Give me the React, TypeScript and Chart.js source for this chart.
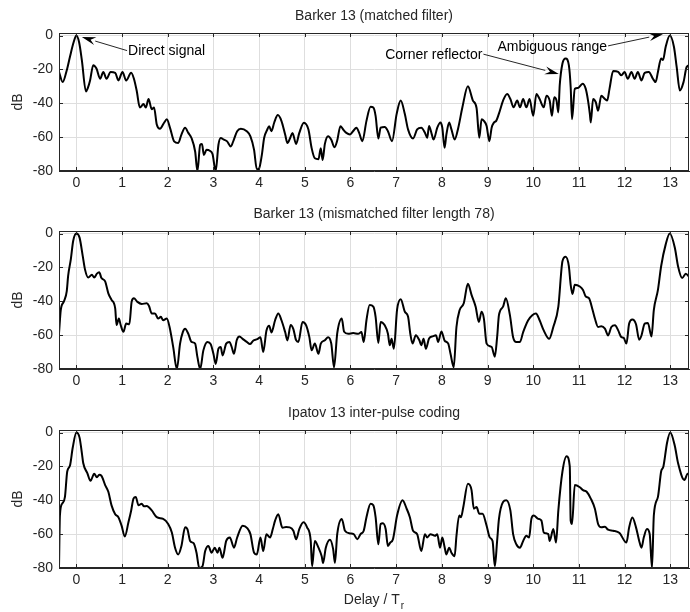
import React, { useEffect, useRef } from "react";
import { Chart, registerables } from "chart.js";
Chart.register(...registerables);

// ---------- axes ----------
const xTicks = [0, 1, 2, 3, 4, 5, 6, 7, 8, 9, 10, 11, 12, 13];
const yTicks = [0, -20, -40, -60, -80];
const X_MIN = -0.38;
const X_MAX = 13.41;
const Y_MIN = -80;
const Y_MAX = 1.5;

const panelTitles = [
  "Barker 13 (matched filter)",
  "Barker 13 (mismatched filter length 78)",
  "Ipatov 13 inter-pulse coding",
];
const yLabel = "dB";
const xLabelMain = "Delay / T";
const xLabelSub = "r";

// ---------- panel 1: Barker 13 matched ----------
const matchedX = [
  -0.38, -0.3, -0.21, -0.14, -0.06, 0, 0.06, 0.12, 0.21, 0.25, 0.3, 0.37, 0.44, 0.52, 0.59, 0.66, 0.75, 0.85,
  0.92, 1.01, 1.09, 1.2, 1.26, 1.32, 1.39, 1.47, 1.52, 1.58, 1.65, 1.7, 1.76, 1.83, 1.92, 1.98, 2.05, 2.14,
  2.23, 2.3, 2.38, 2.45, 2.52, 2.6, 2.65, 2.71, 2.75, 2.79, 2.85, 2.92, 2.98, 3.05, 3.11, 3.16, 3.23, 3.3,
  3.38, 3.44, 3.52, 3.6, 3.73, 3.81, 3.89, 3.95, 4.0, 4.06, 4.11, 4.18, 4.22, 4.27, 4.33, 4.41, 4.49, 4.57,
  4.62, 4.68, 4.73, 4.81, 4.88, 4.98, 5.08, 5.15, 5.22, 5.3, 5.35, 5.39, 5.44, 5.51, 5.58, 5.65, 5.71, 5.78,
  5.84, 5.91, 5.99, 6.06, 6.13, 6.19, 6.26, 6.35, 6.44, 6.5, 6.55, 6.61, 6.66, 6.75, 6.82, 6.91, 7.01, 7.1,
  7.19, 7.26, 7.37, 7.46, 7.55, 7.63, 7.68, 7.72, 7.78, 7.82, 7.9, 7.97, 8.01, 8.06, 8.1, 8.16, 8.21, 8.28,
  8.36, 8.45, 8.57, 8.68, 8.76, 8.82, 8.87, 8.92, 8.98, 9.04, 9.09, 9.14, 9.19, 9.27, 9.34, 9.43, 9.5, 9.57,
  9.65, 9.71, 9.78, 9.85, 9.92, 10.0, 10.07, 10.14, 10.23, 10.29, 10.36, 10.41, 10.46, 10.51, 10.55, 10.58,
  10.64, 10.71, 10.78, 10.82, 10.85, 10.91, 10.98, 11.08, 11.15, 11.2, 11.24, 11.26, 11.31, 11.37, 11.42,
  11.49, 11.57, 11.62, 11.67, 11.75, 11.86, 11.93, 12.0, 12.07, 12.15, 12.22, 12.29, 12.37, 12.44, 12.53,
  12.62, 12.68, 12.73, 12.8, 12.84, 12.9, 12.99, 13.08, 13.14, 13.21, 13.29, 13.36, 13.43,
];
const matchedDb = [
  -21.5, -27.5, -20.5, -12.5, -4, 0, -4, -14.5, -33, -31, -26.5, -17.5, -19.5, -25.5, -21.5, -25.5, -21.5, -22,
  -26.5, -21.5, -26.5, -22, -25.5, -32.5, -42.5, -40.5, -42.5, -37.5, -43.5, -42.5, -52.5, -55, -51.5, -49.5, -54.5, -62.5,
  -63.5, -58.5, -54.5, -57.5, -60.5, -68.5, -80, -64.5, -64, -70.5, -67.5, -68, -70, -80, -64.5, -60.5, -61.5, -62.5,
  -65.5, -62, -56.5, -55, -56.5, -59.5, -67.5, -79, -78.5, -70.5, -60.5, -55.5, -53.5, -56.5, -51.5, -47, -50.5, -58.5,
  -63.5, -60.5, -57.5, -64, -57.5, -51.5, -55.5, -66.5, -72.5, -73, -66.5, -73.5, -64, -59.5, -61.5, -66, -62, -53.5,
  -55.5, -57.5, -58.4, -56.4, -54.4, -57.5, -62.4, -50.4, -42, -42.5, -47.4, -60.8, -54.4, -54, -56.5, -62.4, -46.4, -38.4,
  -46.4, -55.4, -60.8, -55.4, -54.4, -57.4, -60.4, -53.4, -58.4, -61.4, -54.4, -51.4, -54.4, -66.3, -58.4, -51.4, -55.4, -61.4,
  -54.4, -42.4, -30, -38.4, -42.8, -60.4, -49.4, -50.4, -53.4, -62.4, -54.4, -51.4, -50.4, -44.4, -38.4, -34.5, -37.5, -42.4,
  -38.4, -42.4, -37.5, -42.4, -37.5, -47.4, -34.5, -37.5, -42.4, -35.5, -38.4, -47.4, -36.5, -38.4, -45.4, -29.5,
  -16.5, -13.5, -17.5, -30.5, -49.4, -31.5, -31, -28.5, -31.5, -38.4, -46.4, -51.4, -37.5, -39.4, -44.4,
  -35.5, -37.5, -38.4, -31.5, -21, -21.5, -23.5, -21.5, -25.5, -21.5, -25.5, -21.5, -26.5, -22, -21.5,
  -25.5, -27.5, -21.5, -13.5, -14.5, -6.6, 0, -6.6, -18.5, -32.5, -27.5, -18.5, -17.5,
];

// ---------- panel 2: Barker 13 mismatched filter ----------
const mismatchedX = [
  -0.38, -0.34, -0.27, -0.21, -0.18, -0.12, -0.07, 0, 0.07, 0.14, 0.19, 0.26, 0.34, 0.39, 0.45, 0.5, 0.55, 0.63,
  0.7, 0.77, 0.85, 0.88, 0.93, 0.97, 1.03, 1.09, 1.16, 1.21, 1.26, 1.33, 1.43, 1.54, 1.59, 1.65, 1.72, 1.79,
  1.85, 1.9, 1.98, 2.04, 2.12, 2.2, 2.27, 2.33, 2.38, 2.45, 2.52, 2.6, 2.65, 2.71, 2.78, 2.87, 2.94, 3.0,
  3.05, 3.11, 3.16, 3.2, 3.28, 3.35, 3.4, 3.45, 3.51, 3.57, 3.64, 3.73, 3.8, 3.87, 3.96, 4.03, 4.09, 4.16,
  4.22, 4.27, 4.35, 4.42, 4.49, 4.57, 4.62, 4.69, 4.75, 4.81, 4.86, 4.95, 5.03, 5.1, 5.15, 5.22, 5.3, 5.35,
  5.44, 5.51, 5.58, 5.64, 5.71, 5.81, 5.86, 5.95, 6.06, 6.17, 6.24, 6.29, 6.35, 6.42, 6.5, 6.55, 6.61, 6.66,
  6.75, 6.82, 6.86, 6.9, 6.95, 7.02, 7.1, 7.19, 7.26, 7.31, 7.36, 7.43, 7.51, 7.55, 7.6, 7.65, 7.72, 7.81,
  7.87, 7.92, 7.99, 8.06, 8.14, 8.19, 8.26, 8.32, 8.39, 8.48, 8.57, 8.65, 8.74, 8.81, 8.87, 8.92, 8.98, 9.09,
  9.16, 9.21, 9.25, 9.34, 9.4, 9.49, 9.56, 9.63, 9.71, 9.78, 9.89, 9.98, 10.06, 10.14, 10.23, 10.35, 10.44,
  10.55, 10.64, 10.71, 10.78, 10.82, 10.86, 10.91, 11.02, 11.09, 11.15, 11.22, 11.3, 11.35, 11.42, 11.49,
  11.57, 11.64, 11.71, 11.79, 11.86, 11.93, 11.98, 12.04, 12.1, 12.17, 12.25, 12.32, 12.37, 12.44, 12.51,
  12.59, 12.64, 12.73, 12.8, 12.9, 12.99, 13.1, 13.17, 13.26, 13.34, 13.43,
];
const mismatchedDb = [
  -59, -45, -40, -34, -25, -15, -4.4, 0, -2.4, -13.3, -21.3, -26, -24.3, -26, -23.7, -22.9, -26.3, -28.3,
  -35.3, -39.2, -44.2, -54, -50.2, -54, -58, -53.2, -53.6, -40.2, -38.2, -40.2, -41.6, -41.2, -42.8, -47.2, -47.2, -50.2,
  -49.2, -51.2, -50.2, -55.2, -67.1, -80, -65, -58.2, -56.2, -59.2, -64, -65, -73, -80, -69, -64, -65.3, -71,
  -77, -68, -67, -72, -65, -64, -67, -71, -63, -60.8, -62.2, -64, -65.3, -63.3, -62.4, -61.2, -70, -57.4,
  -54.4, -58.4, -51.2, -47.2, -51.2, -58.2, -63.1, -54, -56.4, -63, -64, -52.2, -54.2, -61.2, -69, -65, -71, -65,
  -63, -61.2, -65, -79, -59, -50.2, -58, -59.2, -58.8, -59.2, -58.2, -64, -51.2, -42.2, -43.2, -49.2, -64.7, -52.2,
  -54.2, -59.2, -66, -62.2, -68, -45, -38.8, -46.2, -49, -59.2, -65, -60, -63.2, -66, -62.2, -68, -62, -60.6,
  -60, -64, -57.8, -63.2, -65, -71, -79, -55.2, -45.2, -41.2, -29.7, -36.2, -43.2, -52.2, -46.2, -50.2, -65, -67,
  -72.7, -61.2, -48.2, -43.2, -38.2, -48.2, -61.2, -64, -64, -58.2, -51.2, -48.2, -47.2, -51.2, -57.2, -62.2, -55.2,
  -43.2, -16.3, -13.7, -19.3, -30.3, -35.7, -30.3, -31.3, -33.3, -37.2, -38.2, -45.2, -50.2, -55.2, -54.8,
  -56.2, -60.2, -55.2, -54.2, -57.2, -61.2, -61.6, -65, -53.2, -50.8, -53.6, -62.7, -60.2, -53.2, -52.8,
  -60.8, -45.2, -33.3, -19.3, -6.4, 0, -8.4, -19.3, -26.3, -23.7, -26.3,
];

// ---------- panel 3: Ipatov 13 ----------
const ipatovX = [
  -0.38, -0.36, -0.31, -0.25, -0.2, -0.14, -0.08, 0, 0.07, 0.12, 0.15, 0.24, 0.31, 0.39, 0.45, 0.5, 0.55, 0.63,
  0.7, 0.77, 0.85, 0.92, 0.99, 1.06, 1.14, 1.2, 1.25, 1.3, 1.36, 1.43, 1.48, 1.54, 1.65, 1.76, 1.9, 2.01,
  2.09, 2.16, 2.23, 2.3, 2.38, 2.43, 2.49, 2.57, 2.63, 2.69, 2.76, 2.82, 2.89, 2.96, 3.03, 3.09, 3.13, 3.2,
  3.28, 3.36, 3.45, 3.52, 3.64, 3.74, 3.81, 3.89, 3.95, 4.03, 4.09, 4.16, 4.24, 4.3, 4.35, 4.42, 4.51, 4.59,
  4.67, 4.75, 4.81, 4.88, 4.97, 5.05, 5.13, 5.16, 5.22, 5.3, 5.37, 5.4, 5.46, 5.55, 5.62, 5.66, 5.71, 5.81,
  5.88, 5.99, 6.07, 6.15, 6.22, 6.29, 6.35, 6.44, 6.5, 6.55, 6.61, 6.66, 6.71, 6.77, 6.82, 6.87, 6.93, 7.02,
  7.14, 7.23, 7.3, 7.37, 7.46, 7.55, 7.63, 7.68, 7.75, 7.85, 7.9, 7.96, 8.01, 8.06, 8.1, 8.16, 8.21, 8.28,
  8.32, 8.38, 8.42, 8.47, 8.57, 8.65, 8.7, 8.76, 8.82, 8.89, 8.98, 9.05, 9.11, 9.16, 9.21, 9.25, 9.34, 9.41,
  9.5, 9.56, 9.63, 9.71, 9.78, 9.85, 9.91, 9.96, 10.01, 10.11, 10.18, 10.23, 10.33, 10.36, 10.44, 10.5, 10.55,
  10.64, 10.73, 10.8, 10.82, 10.85, 10.91, 11.02, 11.09, 11.17, 11.26, 11.35, 11.42, 11.49, 11.57, 11.64,
  11.75, 11.89, 12.04, 12.1, 12.17, 12.25, 12.32, 12.37, 12.42, 12.49, 12.55, 12.6, 12.64, 12.73, 12.8,
  12.85, 12.93, 13.0, 13.1, 13.17, 13.31, 13.38, 13.43,
];
const ipatovDb = [
  -80, -49, -42, -38, -23, -19.5, -9, 0, -3, -12, -18, -24, -28.5, -24.3, -26.4, -25, -25.6, -31,
  -35, -43, -48.2, -50, -55, -61.4, -53, -46, -39, -38, -43, -42, -43.6, -43.4, -46, -50, -51, -54,
  -59, -68, -72, -67, -56, -57, -64, -65.5, -71, -80, -79, -70, -67, -71, -68, -71, -68, -74,
  -64, -62, -68, -62, -55, -56.4, -60, -71, -72, -62, -70, -60, -62, -57, -52, -48.2, -56.2, -55.8,
  -56, -58, -63, -57, -53, -56, -64, -79, -64, -68, -73, -77, -68, -63.3, -68.7, -77, -60, -51,
  -58, -59.6, -60, -63, -60, -58, -50, -42, -43, -50, -66, -54, -53.6, -57, -67, -65, -63, -49,
  -40, -45, -50, -58, -60, -70, -60, -62, -60, -61, -60, -68, -62, -67.6, -72, -68, -71, -73,
  -61, -49, -50, -44, -30.3, -34, -45, -44, -48, -48, -55, -62, -64, -79, -64, -51, -41, -40,
  -46, -60, -66, -68, -64, -61, -62, -51, -49, -51, -52, -59, -60, -64, -57, -65, -46,
  -23, -14, -20, -52, -54, -31, -32.3, -34, -35, -39, -45, -54, -56, -55.6, -57.4,
  -58, -59.4, -65, -56, -50.2, -56, -64, -68, -62, -57, -60, -80, -49, -38, -23,
  -20, -6, 0, -8, -18, -28, -24.3, -25,
];

// ---------- annotations (panel 1, data coordinates) ----------
const noteText = ["Direct signal", "Corner reflector", "Ambiguous range"];
const noteTailX = [1.11, 8.91, 11.64];
const noteTailY = [-8.9, -11.0, -6.1];
const noteTipX = [0.12, 10.56, 12.84];
const noteTipY = [-0.9, -22.7, 0.8];
const noteAlign = ["left", "right", "right"];

const FONT = "'Liberation Sans', Arial, Helvetica, sans-serif";
const INK = "#262626";
const GRID = "#dedede";
const AREA_TOP = 33;
const AREA_BOTTOM = 171;
const CANVAS_W = 690;

type Panel = {
  xs: number[];
  ys: number[];
  title: string;
  top: number;
  height: number;
  notes: boolean;
  xlabel: boolean;
};

const panels: Panel[] = [
  { xs: matchedX, ys: matchedDb, title: panelTitles[0], top: 0, height: 198, notes: true, xlabel: false },
  { xs: mismatchedX, ys: mismatchedDb, title: panelTitles[1], top: 198, height: 199, notes: false, xlabel: false },
  { xs: ipatovX, ys: ipatovDb, title: panelTitles[2], top: 397, height: 215, notes: false, xlabel: true },
];

function arrow(ctx: CanvasRenderingContext2D, x0: number, y0: number, x1: number, y1: number) {
  const ang = Math.atan2(y1 - y0, x1 - x0);
  const L = 14;
  const W = 4;
  const bx = x1 - L * Math.cos(ang);
  const by = y1 - L * Math.sin(ang);
  ctx.beginPath();
  ctx.moveTo(x0, y0);
  ctx.lineTo(bx, by);
  ctx.strokeStyle = INK;
  ctx.lineWidth = 1;
  ctx.stroke();
  ctx.beginPath();
  ctx.moveTo(x1, y1);
  ctx.lineTo(bx + W * Math.sin(ang), by - W * Math.cos(ang));
  ctx.lineTo(bx + 0.35 * L * Math.cos(ang), by + 0.35 * L * Math.sin(ang));
  ctx.lineTo(bx - W * Math.sin(ang), by + W * Math.cos(ang));
  ctx.closePath();
  ctx.fillStyle = "#000";
  ctx.fill();
}

function makePlugin(p: Panel) {
  return {
    id: "frame",
    beforeDraw(chart: any) {
      const ctx = chart.ctx;
      ctx.save();
      ctx.fillStyle = "#fff";
      ctx.fillRect(0, 0, chart.width, chart.height);
      ctx.restore();
    },
    afterDraw(chart: any) {
      const { ctx, chartArea: a, scales } = chart;
      const sx = scales.x;
      const sy = scales.y;
      ctx.save();
      // inside tick marks
      ctx.strokeStyle = INK;
      ctx.lineWidth = 1;
      ctx.beginPath();
      for (const v of xTicks) {
        const px = Math.round(sx.getPixelForValue(v)) + 0.5;
        ctx.moveTo(px, a.top);
        ctx.lineTo(px, a.top + 4);
        ctx.moveTo(px, a.bottom);
        ctx.lineTo(px, a.bottom - 4);
      }
      for (const v of yTicks) {
        const py = Math.round(sy.getPixelForValue(v)) + 0.5;
        ctx.moveTo(a.left, py);
        ctx.lineTo(a.left + 4, py);
        ctx.moveTo(a.right, py);
        ctx.lineTo(a.right - 4, py);
      }
      ctx.stroke();
      // box
      ctx.strokeRect(Math.round(a.left) + 0.5, Math.round(a.top) + 0.5, Math.round(a.right - a.left) - 1, Math.round(a.bottom - a.top) - 1);
      // title
      ctx.fillStyle = INK;
      ctx.font = `14px ${FONT}`;
      ctx.textAlign = "center";
      ctx.textBaseline = "middle";
      ctx.fillText(p.title, (a.left + a.right) / 2, 16);
      // annotations
      if (p.notes) {
        for (let i = 0; i < noteText.length; i++) {
          const tx = sx.getPixelForValue(noteTailX[i]);
          const ty = sy.getPixelForValue(noteTailY[i]);
          const hx = sx.getPixelForValue(noteTipX[i]);
          const hy = sy.getPixelForValue(noteTipY[i]);
          arrow(ctx, tx, ty, hx, hy);
          ctx.fillStyle = "#000";
          ctx.font = `14px ${FONT}`;
          ctx.textBaseline = "middle";
          ctx.textAlign = noteAlign[i] as CanvasTextAlign;
          ctx.fillText(noteText[i], noteAlign[i] === "left" ? tx + 1 : tx - 1, ty + 1);
        }
      }
      // x label
      if (p.xlabel) {
        ctx.font = `14px ${FONT}`;
        const w1 = ctx.measureText(xLabelMain).width;
        ctx.font = `10px ${FONT}`;
        const w2 = ctx.measureText(xLabelSub).width;
        const cx = (a.left + a.right) / 2;
        const x0 = cx - (w1 + w2 + 1) / 2;
        const y0 = 203;
        ctx.fillStyle = INK;
        ctx.textAlign = "left";
        ctx.textBaseline = "middle";
        ctx.font = `14px ${FONT}`;
        ctx.fillText(xLabelMain, x0, y0);
        ctx.font = `10px ${FONT}`;
        ctx.fillText(xLabelSub, x0 + w1 + 1, y0 + 6);
      }
      ctx.restore();
    },
  };
}

function PanelChart({ p }: { p: Panel }) {
  const ref = useRef<HTMLCanvasElement | null>(null);
  useEffect(() => {
    if (!ref.current) return;
    const data = p.xs.map((x, i) => ({ x, y: p.ys[i] }));
    const chart = new Chart(ref.current, {
      type: "line",
      data: {
        datasets: [
          {
            data,
            borderColor: "#000",
            borderWidth: 2,
            pointRadius: 0,
            cubicInterpolationMode: "monotone",
            fill: false,
            borderJoinStyle: "round",
          } as any,
        ],
      },
      options: {
        responsive: false,
        animation: false,
        devicePixelRatio: 1,
        events: [],
        layout: { padding: { top: AREA_TOP, right: 1, left: 0, bottom: 0 } },
        plugins: { legend: { display: false }, tooltip: { enabled: false }, title: { display: false } },
        scales: {
          x: {
            type: "linear",
            min: X_MIN,
            max: X_MAX,
            afterBuildTicks: (s: any) => {
              s.ticks = xTicks.map((v) => ({ value: v }));
            },
            afterFit: (s: any) => {
              s.height = p.height - AREA_BOTTOM;
            },
            ticks: {
              font: { size: 14, family: FONT },
              color: INK,
              padding: 4,
              maxRotation: 0,
              autoSkip: false,
              callback: (v: any) => String(v),
            },
            grid: { color: GRID, drawTicks: false, lineWidth: 1 },
            border: { color: INK, width: 1 },
          },
          y: {
            type: "linear",
            min: Y_MIN,
            max: Y_MAX,
            afterBuildTicks: (s: any) => {
              s.ticks = yTicks.map((v) => ({ value: v }));
            },
            afterFit: (s: any) => {
              s.width = 59;
            },
            ticks: {
              font: { size: 14, family: FONT },
              color: INK,
              padding: 6,
              callback: (v: any) => String(v),
            },
            grid: { color: GRID, drawTicks: false, lineWidth: 1 },
            border: { color: INK, width: 1 },
            title: {
              display: true,
              text: yLabel,
              color: INK,
              font: { size: 14, family: FONT },
              padding: { top: 10, bottom: 0 },
            },
          },
        },
      } as any,
      plugins: [makePlugin(p)],
    });
    return () => chart.destroy();
  }, [p]);
  return (
    <canvas
      ref={ref}
      width={CANVAS_W}
      height={p.height}
      style={{ position: "absolute", left: 0, top: p.top, width: CANVAS_W, height: p.height, display: "block" }}
    />
  );
}

export default function App() {
  return (
    <div style={{ position: "absolute", left: 0, top: 0, width: CANVAS_W, height: 612, background: "#fff", overflow: "hidden" }}>
      {panels.map((p, i) => (
        <PanelChart key={i} p={p} />
      ))}
    </div>
  );
}
